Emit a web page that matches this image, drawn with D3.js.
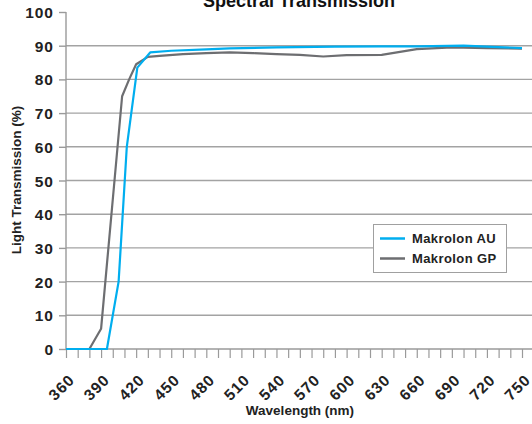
<!DOCTYPE html>
<html><head><meta charset="utf-8">
<script src="https://cdn.jsdelivr.net/npm/d3@7"></script>
<style>
html,body{margin:0;padding:0;background:#fff;}
svg{display:block;font-family:"Liberation Sans",Arial,sans-serif;font-weight:bold;}
</style></head><body>
<svg id="c" width="532" height="424"></svg>
<script>
const title = "Spectral Transmission";
const xTitle = "Wavelength (nm)";
const yTitle = "Light Transmission (%)";
const seriesNames = ["Makrolon AU", "Makrolon GP"];
const seriesColors = ["#00aeef", "#6d6e71"];
const xTickLabels = [360,390,420,450,480,510,540,570,600,630,660,690,720,750];
const yTickLabels = [0,10,20,30,40,50,60,70,80,90,100];
const auWavelength = [360,370,380,390,395,405,412,421,432,450,480,500,540,590,630,660,700,750];
const auValues     = [0,0,0,0,0,20,60,83.5,88,88.5,88.9,89.2,89.5,89.7,89.8,89.8,90,89.3];
const gpWavelength = [360,370,380,390,408,414,420,430,440,460,480,500,520,540,560,580,600,630,660,690,720,750];
const gpValues     = [0,0,0,6,75,80,84.5,86.7,87,87.5,87.8,88,87.8,87.5,87.3,86.8,87.2,87.3,89,89.5,89.3,89.1];

const svg = d3.select("#c");
const x = d3.scaleLinear().domain([360,750]).range([66,522]);
const y = d3.scaleLinear().domain([0,100]).range([349,12]);

// gridlines
svg.append("g").selectAll("line").data(yTickLabels.filter(v=>v>0 && v<100)).join("line")
  .attr("x1",66).attr("x2",532).attr("y1",d=>y(d)).attr("y2",d=>y(d))
  .attr("stroke","#a3a3a3").attr("stroke-width",1.4);

// y axis
const yAxis = d3.axisLeft(y).tickValues(yTickLabels).tickSize(7).tickPadding(5).tickFormat(d3.format("d"));
const ya = svg.append("g").attr("transform","translate(66,0)").call(yAxis);
ya.select(".domain").attr("stroke","#9a9a9a").attr("stroke-width",1.4).attr("d","M0,12V349");
ya.selectAll(".tick line").attr("stroke","#9a9a9a").attr("stroke-width",1.4);
ya.selectAll(".tick text").attr("font-size",15.5).attr("fill","#222").attr("letter-spacing",1)
  .attr("font-family","Liberation Sans, Arial, sans-serif").attr("font-weight","bold").attr("dy","0.36em");

// x axis
const xAxis = d3.axisBottom(x).tickValues(d3.range(360,751,10)).tickSize(9).tickFormat(d=> xTickLabels.includes(d)? d : "");
const xa = svg.append("g").attr("transform","translate(0,349)").call(xAxis);
xa.select(".domain").attr("stroke","#9a9a9a").attr("stroke-width",1.4).attr("d","M66,0H532");
xa.selectAll(".tick line").attr("stroke","#9a9a9a").attr("stroke-width",1.2);
xa.selectAll(".tick text").attr("font-size",15.5).attr("fill","#222").attr("letter-spacing",1)
  .attr("font-family","Liberation Sans, Arial, sans-serif").attr("font-weight","bold")
  .attr("text-anchor","end").attr("y",0).attr("dy",0)
  .attr("transform","translate(9,32) rotate(-45)");

// lines
const line = d3.line().x(d=>x(d[0])).y(d=>y(d[1]));
const gpData = gpWavelength.map((w,i)=>[w,gpValues[i]]);
const auData = auWavelength.map((w,i)=>[w,auValues[i]]);
svg.append("path").datum(gpData).attr("d",line).attr("fill","none").attr("stroke",seriesColors[1]).attr("stroke-width",2.2).attr("stroke-linejoin","round");
svg.append("path").datum(auData).attr("d",line).attr("fill","none").attr("stroke",seriesColors[0]).attr("stroke-width",2.2).attr("stroke-linejoin","round");

// titles
svg.append("text").attr("x",299).attr("y",6.5).attr("text-anchor","middle").attr("font-size",18).attr("fill","#111").text(title);
svg.append("text").attr("x",300).attr("y",415).attr("text-anchor","middle").attr("font-size",13.5).attr("fill","#222").text(xTitle);
svg.append("text").attr("transform","translate(21,180) rotate(-90)").attr("text-anchor","middle").attr("font-size",13.5).attr("fill","#222").text(yTitle);

// legend
const lg = svg.append("g");
lg.append("rect").attr("x",373.5).attr("y",224.5).attr("width",133).attr("height",48).attr("fill","#fff").attr("stroke","#a0a0a0").attr("stroke-width",1);
seriesNames.forEach((n,i)=>{
  const yy = 238.5 + i*20;
  lg.append("line").attr("x1",380).attr("x2",405).attr("y1",yy).attr("y2",yy).attr("stroke",seriesColors[i]).attr("stroke-width",2.5);
  lg.append("text").attr("x",412).attr("y",yy+4.8).attr("font-size",13).attr("letter-spacing",0.4).attr("fill","#222").text(n);
});
</script></body></html>
